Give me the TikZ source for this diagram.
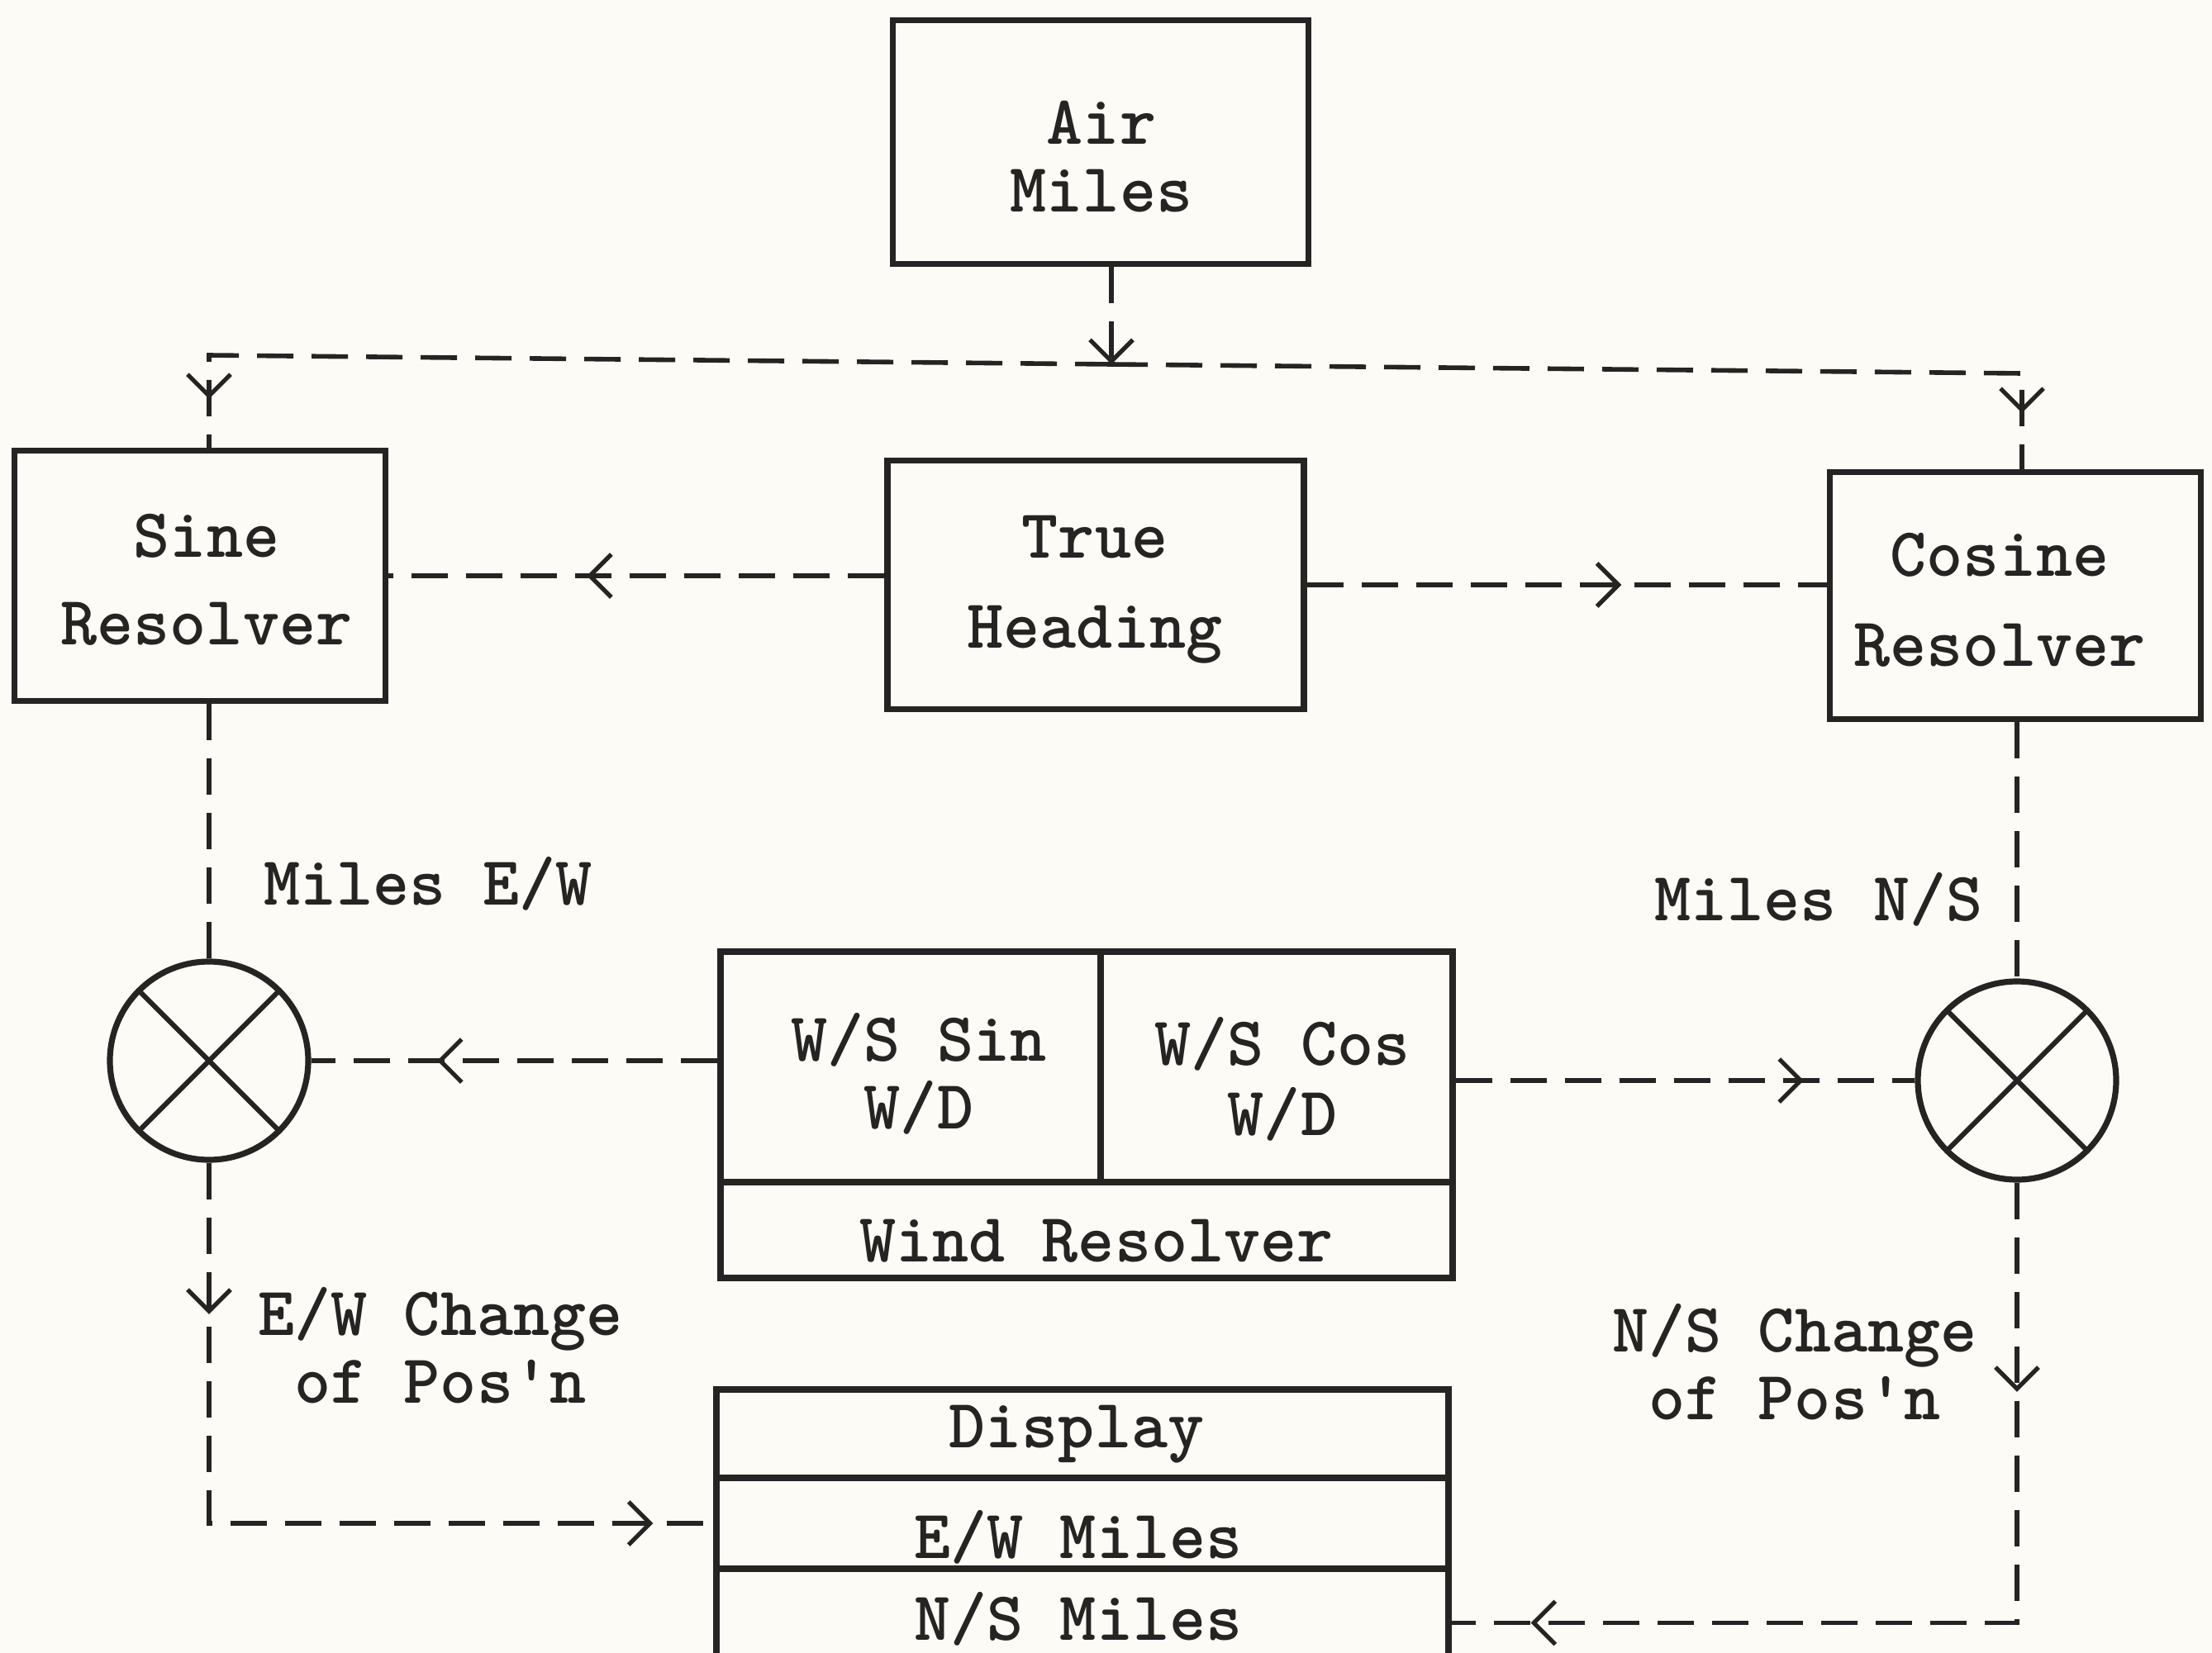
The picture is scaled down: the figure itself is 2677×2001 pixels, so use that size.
\documentclass[tikz,border=0pt]{standalone}
\usepackage{fontspec}
\usetikzlibrary{arrows.meta,decorations.markings,calc}
\definecolor{ink}{RGB}{38,36,34}
\definecolor{paper}{RGB}{252,251,246}
\newcommand\diagfont{\fontsize{21}{20.5}\selectfont\ttfamily\bfseries}
\newcommand\chev{\arrow[ink]{Straight Barb[length=6.5pt,width=13pt,line width=1.3pt]}}
\begin{document}
\begin{tikzpicture}[x=0.25pt,y=-0.25pt,
  box/.style={draw=ink, line width=1.8pt, inner sep=0pt},
  sumnode/.style={circle, draw=ink, line width=1.8pt, minimum size=60pt, inner sep=0pt,
    path picture={\draw[ink, line width=1.5pt]
      (path picture bounding box.north west) -- (path picture bounding box.south east)
      (path picture bounding box.north east) -- (path picture bounding box.south west);}},
  conn/.style={draw=ink, line width=1.4pt, dash pattern=on 11pt off 5.5pt},
  midarrow/.style={postaction={decorate}, decoration={markings, mark=at position #1 with {\chev}}},
  lbl/.style={font=\diagfont, text=ink, align=center, inner sep=0pt}]

\fill[paper] (0,0) rectangle (2677,2001);
\useasboundingbox (0,0) rectangle (2677,2001);

% boxes
\node[box, minimum width=125.75pt, minimum height=73.75pt] (am) at (1332,172) {};
\node[box, minimum width=112.25pt, minimum height=75.75pt] (sr) at (242,697) {};
\node[box, minimum width=126pt, minimum height=75.25pt] (th) at (1326,708) {};
\node[box, minimum width=112.25pt, minimum height=74.75pt] (cr) at (2439,721) {};
\node[sumnode] (lc) at (253,1284) {};
\node[sumnode] (rc) at (2441,1308) {};
\node[box, minimum width=115pt, minimum height=69.75pt] (wsin) at (1102,1291.5) {};
\node[box, minimum width=106.5pt, minimum height=69.75pt] (wcos) at (1545,1291.5) {};
\node[box, minimum width=221.5pt, minimum height=29pt] (wr) at (1315,1489) {};
\node[box, minimum width=221.5pt, minimum height=26.75pt] (dsp) at (1310,1735.5) {};
\node[box, minimum width=221.5pt, minimum height=27.5pt] (ew) at (1310,1844) {};
\node[box, minimum width=221.5pt, minimum height=32.75pt] (ns) at (1310,1964.5) {};

% box texts
\node[lbl] (amt) at (1333,190) {Air\\Miles};
\node[lbl] (srt) at (250,702) {Sine\\[6pt]Resolver};
\node[lbl] (tht) at (1325,714) {True\\[6.8pt]Heading};
\node[lbl] (crt) at (2420,726) {Cosine\\[6.8pt]Resolver};
\node[lbl] (wsint) at (1112,1300) {W/S Sin\\W/D};
\node[lbl] (wcost) at (1552,1306) {W/S Cos\\[0.8pt]W/D};
\node[lbl] (wrt) at (1327,1502) {Wind Resolver};
\node[lbl] (dspt) at (1303,1736) {Display};
\node[lbl] (ewt) at (1305,1861) {E/W Miles};
\node[lbl] (nst) at (1305,1960) {N/S Miles};

% labels
\node[lbl] (lew) at (518,1070) {Miles E/W};
\node[lbl] (lns) at (2201,1089) {Miles N/S};
\node[lbl] (lewc) at (533,1629) {E/W Change\\of Pos\textquotesingle n};
\node[lbl] (lnsc) at (2172,1649) {N/S Change\\of Pos\textquotesingle n};

% bus
\coordinate (jn) at (1345,441);
\coordinate (cL) at (253,430);
\coordinate (cR) at (2447,452);

\draw[conn, -{Straight Barb[length=6.5pt,width=13pt,line width=1.3pt]}] (am.south -| jn) -- (jn);
\draw[conn, postaction={decorate}, decoration={markings, mark=at position -14.75pt with {\chev}}]
  (jn) -- (cL) -- (cL |- sr.north);
\draw[conn, postaction={decorate}, decoration={markings, mark=at position -17pt with {\chev}}]
  (jn) -- (cR) -- (cR |- cr.north);

\draw[conn, midarrow=0.6] (sr.east -| th.west) -- (sr.east);
\draw[conn, midarrow=0.605] (th.east) -- (th.east -| cr.west);

\draw[conn] (lc.north |- sr.south) -- (lc.north);
\draw[conn] (rc.north |- cr.south) -- (rc.north);

\draw[conn, midarrow=0.69] (lc.east -| wsin.west) -- (lc.east);
\draw[conn, midarrow=0.758] (rc.west -| wcos.east) -- (rc.west);

\draw[conn, postaction={decorate}, decoration={markings, mark=at position 0.175 with {\chev}, mark=at position -18.25pt with {\chev}}]
  (lc.south) -- (lc.south |- ew.west) -- (ew.west);
\draw[conn, postaction={decorate}, decoration={markings, mark=at position 0.208 with {\chev}, mark=at position -24pt with {\chev}}]
  (rc.south) -- (rc.south |- ns.east) -- (ns.east);
\end{tikzpicture}
\end{document}
